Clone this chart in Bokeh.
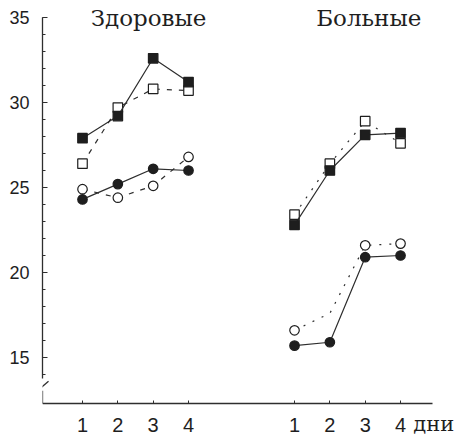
from bokeh.plotting import figure
from bokeh.models import Range1d, Label, FixedTicker
from bokeh.embed import file_html
from bokeh.resources import INLINE

# ---- data ----
day_labels = ["1", "2", "3", "4"]
healthy_pos = [1, 2, 3, 4]
sick_pos = [7, 8, 9, 10]

healthy_sq_filled = [27.9, 29.2, 32.6, 31.2]
healthy_sq_open = [26.4, 29.7, 30.8, 30.7]
healthy_ci_filled = [24.3, 25.2, 26.1, 26.0]
healthy_ci_open = [24.9, 24.4, 25.1, 26.8]

sick_sq_filled = [22.8, 26.0, 28.1, 28.2]
sick_sq_open = [23.4, 26.4, 28.9, 27.6]
sick_ci_filled = [15.7, 15.9, 20.9, 21.0]
sick_ci_open = [16.6, 17.6, 21.6, 21.7]
sick_ci_open_marker_shown = [True, False, True, True]

group_titles = ["Здоровые", "Больные"]
x_unit_label = "дни"
y_ticks = [15, 20, 25, 30, 35]

INK = "#1e1e1e"
LINE = "#2e2e2e"

X0, X1 = -0.132, 11.81
Y_AXIS = 12.3          # value where the x axis sits
Y0, Y1 = 10.12, 36.0

p = figure(width=464, height=440, x_range=Range1d(X0, X1), y_range=Range1d(Y0, Y1),
           output_backend="svg", toolbar_location=None,
           min_border_left=42, min_border_right=0, min_border_top=0, min_border_bottom=0)
p.grid.visible = False
p.outline_line_color = None
p.background_fill_color = "white"

# x axis (placed inside the frame so the unit label can sit beside it)
p.xaxis.fixed_location = Y_AXIS
p.xaxis.ticker = FixedTicker(ticks=healthy_pos + sick_pos)
p.xaxis.major_label_overrides = {**{x: l for x, l in zip(healthy_pos, day_labels)},
                                 **{x: l for x, l in zip(sick_pos, day_labels)}}
p.xaxis.bounds = (X0, 10.9)
p.xaxis.major_tick_in = 3
p.xaxis.major_tick_out = 0
p.xaxis.minor_tick_line_color = None
p.xaxis.axis_line_color = LINE
p.xaxis.axis_line_width = 1.3
p.xaxis.major_tick_line_color = LINE
p.xaxis.major_label_text_font = "Liberation Sans"
p.xaxis.major_label_text_font_size = "20px"
p.xaxis.major_label_text_color = INK
p.xaxis.major_label_standoff = 15

# y axis
p.yaxis.ticker = FixedTicker(ticks=y_ticks, minor_ticks=list(range(14, 36)))
p.yaxis.bounds = (13.75, 35)
p.yaxis.major_tick_in = 5
p.yaxis.major_tick_out = 0
p.yaxis.minor_tick_in = 3
p.yaxis.minor_tick_out = 0
p.yaxis.axis_line_color = LINE
p.yaxis.axis_line_width = 1.3
p.yaxis.major_tick_line_color = LINE
p.yaxis.minor_tick_line_color = LINE
p.yaxis.major_label_text_font = "Liberation Sans"
p.yaxis.major_label_text_font_size = "18px"
p.yaxis.major_label_text_color = INK
p.yaxis.major_label_standoff = 13

# axis break decoration
p.line([X0, X0], [Y_AXIS, 13.05], line_color=LINE, line_width=1.3)
p.line([X0 - 0.14, X0 + 0.17], [13.05, 13.6], line_color=LINE, line_width=1.3)

def series(xs, ys, marker, filled, dash, show=None):
    p.line(xs, ys, line_color=LINE, line_width=1.2, line_dash=dash)
    if show is not None:
        xs = [x for x, s in zip(xs, show) if s]
        ys = [y for y, s in zip(ys, show) if s]
    p.scatter(xs, ys, marker=marker, size=9.5,
              fill_color=INK if filled else "white",
              line_color=INK, line_width=1.2)

# healthy
series(healthy_pos, healthy_sq_open, "square", False, "5 7")
series(healthy_pos, healthy_ci_open, "circle", False, "5 7")
series(healthy_pos, healthy_sq_filled, "square", True, "solid")
series(healthy_pos, healthy_ci_filled, "circle", True, "solid")
# sick
series(sick_pos, sick_sq_open, "square", False, "2 8")
series(sick_pos, sick_ci_open, "circle", False, "2 8", sick_ci_open_marker_shown)
series(sick_pos, sick_sq_filled, "square", True, "solid")
series(sick_pos, sick_ci_filled, "circle", True, "solid")

# titles
for t, xc in zip(group_titles, [2.87, 9.1]):
    p.add_layout(Label(x=xc, y=35.0, text=t, text_align="center", text_baseline="middle",
                       text_font="DejaVu Serif", text_font_size="23px", text_color=INK))

p.add_layout(Label(x=10.36, y=11.1, text=x_unit_label, text_align="left",
                   text_baseline="middle", text_font="DejaVu Serif", text_font_size="21px",
                   text_color=INK))

open("out.html", "w").write(file_html(p, INLINE))
